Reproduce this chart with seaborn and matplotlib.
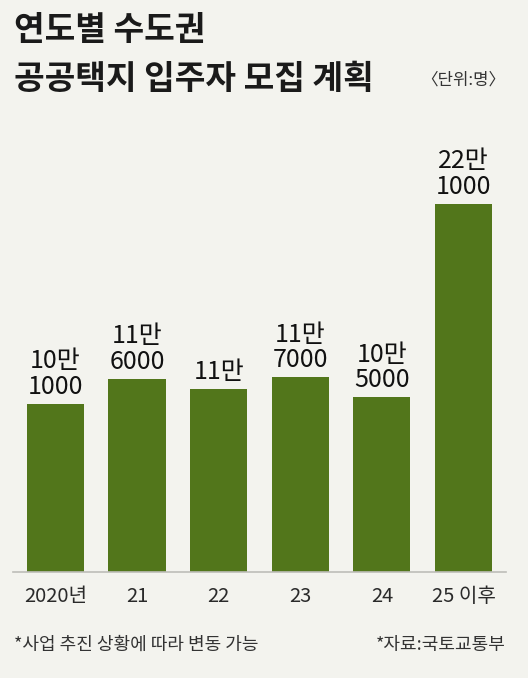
import matplotlib
matplotlib.use("Agg")
import matplotlib.pyplot as plt
import seaborn as sns
import pandas as pd

# 연도별 수도권 공공택지 입주자 모집 계획 (단위: 명)
years = ["2020년", "21", "22", "23", "24", "25 이후"]
people = [101000, 116000, 110000, 117000, 105000, 221000]

bg = "#f3f3ee"
green = "#52761b"

sns.set_theme(style="white")
plt.rcParams["font.family"] = ["Noto Sans CJK KR", "DejaVu Sans"]

df = pd.DataFrame({"year": years, "people": people})

fig = plt.figure(figsize=(5.28, 6.78), dpi=100, facecolor=bg)
ax = fig.add_axes([0.0246, 0.1563, 0.9337, 0.6136])
ax.set_facecolor(bg)

sns.barplot(data=df, x="year", y="people", color=green, width=0.70,
            saturation=1, linewidth=0, ax=ax)

ax.set_xlim(-0.52, 5.52)
ax.set_ylim(0, 250000)
ax.set_yticks([])
ax.set_xlabel("")
ax.set_ylabel("")
for s in ["top", "left", "right"]:
    ax.spines[s].set_visible(False)
ax.spines["bottom"].set_color("#bdbdb8")
ax.spines["bottom"].set_linewidth(1.2)
ax.tick_params(axis="x", length=0, pad=10, labelsize=14.5, colors="#2a2a2a")

# 값 레이블: 만 단위 + 나머지
def fmt(v):
    man, rest = divmod(v, 10000)
    if rest:
        return f"{man}만\n{rest}"
    return f"{man}만"

for i, v in enumerate(people):
    ax.annotate(fmt(v), (i, v), xytext=(0, 3), textcoords="offset points",
                ha="center", va="bottom", fontsize=18, fontweight="medium",
                color="#111111", linespacing=0.98)

fig.text(0.026, 0.955, "연도별 수도권", fontsize=24, fontweight=900,
         color="#1a1a1a", va="center", ha="left")
fig.text(0.026, 0.883, "공공택지 입주자 모집 계획", fontsize=24, fontweight=900,
         color="#1a1a1a", va="center", ha="left")
fig.text(0.958, 0.882, "〈단위:명〉", fontsize=12, color="#333333",
         va="center", ha="right")

fig.text(0.026, 0.049, "*사업 추진 상황에 따라 변동 가능", fontsize=13,
         color="#333333", va="center", ha="left")
fig.text(0.958, 0.049, "*자료:국토교통부", fontsize=13,
         color="#333333", va="center", ha="right")

fig.savefig("out.png", dpi=100, facecolor=bg)
